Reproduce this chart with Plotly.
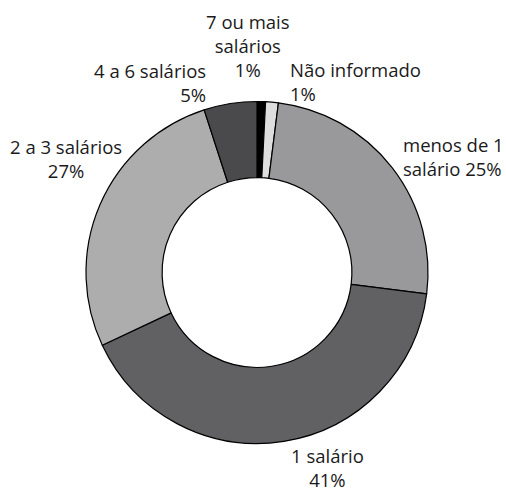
import plotly.graph_objects as go

# faixas de renda (ordem horária a partir do topo)
categorias = ["7 ou mais salários", "Não informado", "menos de 1 salário",
              "1 salário", "2 a 3 salários", "4 a 6 salários"]
valores = [0.8, 1.2, 25, 41, 27, 5]
pct_rotulo = [1, 1, 25, 41, 27, 5]
cores = ["#000000", "#dedede", "#99999c", "#616164", "#adadad", "#4a4a4c"]

# texto dos rótulos como no original (quebras de linha)
rotulos = [
    "7 ou mais<br>salários<br>{}%",
    "Não informado<br>{}%",
    "menos de 1<br>salário {}%",
    "1 salário<br>{}%",
    "2 a 3 salários<br>{}%",
    "4 a 6 salários<br>{}%",
]

# posição dos rótulos (pixels) e alinhamento
pos_rotulo = [
    (248, 46, "center"),
    (288, 81, "left"),
    (401, 157, "left"),
    (327, 467, "center"),
    (66, 158, "center"),
    (208, 82, "right"),
]

W, H = 506, 494

fig = go.Figure(
    data=go.Pie(
        labels=categorias,
        values=valores,
        textinfo="none",
        hole=0.555,
        sort=False,
        direction="clockwise",
        rotation=0,
        marker=dict(colors=cores, line=dict(color="black", width=1.2)),
        showlegend=False,
        domain=dict(x=[86 / W, 428 / W], y=[1 - 443.5 / H, 1 - 101.5 / H]),
        hoverinfo="label+percent",
    ),
    layout=go.Layout(
        width=W,
        height=H,
        margin=dict(l=0, r=0, t=0, b=0),
        paper_bgcolor="white",
        plot_bgcolor="white",
    ),
)

for txt, p, (px_, py_, al) in zip(rotulos, pct_rotulo, pos_rotulo):
    fig.add_annotation(
        x=px_ / W, y=1 - py_ / H, xref="paper", yref="paper",
        text=txt.format(p), showarrow=False,
        xanchor=al, yanchor="middle", align=al,
        font=dict(family="Open Sans", size=18.5, color="#1a1a1a"),
    )

# tira a margem padrão do body para a figura começar em (0, 0)
fig.write_html("out.html", config={"displayModeBar": False},
               post_script="document.body.style.margin='0px';")
